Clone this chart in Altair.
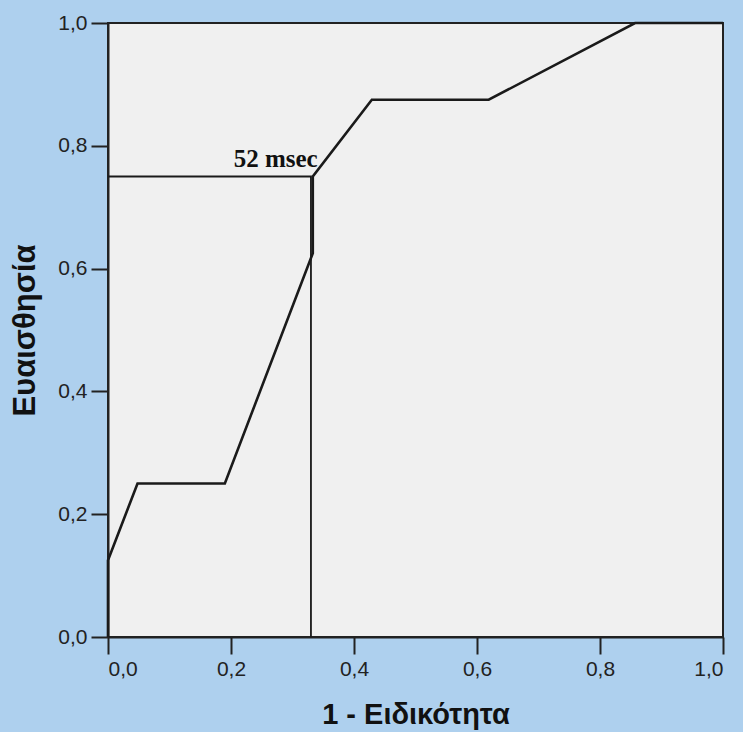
import altair as alt
import pandas as pd

# ROC curve (1 - specificity, sensitivity)
fpr = [0.0, 0.0, 0.048, 0.190, 0.333, 0.333, 0.429, 0.619, 0.857, 1.0]
tpr = [0.0, 0.125, 0.25, 0.25, 0.625, 0.75, 0.875, 0.875, 1.0, 1.0]

# cut-off reference lines
ref_x = [0.0, 0.33, 0.33]
ref_y = [0.75, 0.75, 0.0]

label_text = ["52 msec"]
label_x = [0.341]
label_y = [0.765]

ticks = [0.0, 0.2, 0.4, 0.6, 0.8, 1.0]

curve = pd.DataFrame({"x": fpr, "y": tpr, "o": list(range(len(fpr)))})
ref = pd.DataFrame({"x": ref_x, "y": ref_y, "o": list(range(len(ref_x)))})
lab = pd.DataFrame({"x": label_x, "y": label_y, "t": label_text})

W, H = 615, 614
lab_expr = "replace(format(datum.value, '.1f'), '.', ',')"

xs = alt.Scale(domain=[0, 1], nice=False, zero=False)
ys = alt.Scale(domain=[0, 1], nice=False, zero=False)

x_axis = alt.Axis(values=ticks, labelExpr=lab_expr, title="1 - Ειδικότητα",
                  titleX=W / 2, titleY=77, titleBaseline="middle", titleAlign="center",
                  titleFontSize=29)
y_axis = alt.Axis(values=ticks, labelExpr=lab_expr, title="Ευαισθησία",
                  titleX=-83, titleY=H / 2, titleBaseline="middle", titleAlign="center",
                  titleAngle=-90, titleFontSize=31)

ref_line = alt.Chart(ref).mark_line(color="#1a1a1a", strokeWidth=1.8).encode(
    x=alt.X("x:Q", scale=xs, axis=x_axis),
    y=alt.Y("y:Q", scale=ys, axis=y_axis),
    order="o:O",
)

roc = alt.Chart(curve).mark_line(color="#1a1a1a", strokeWidth=2.6).encode(
    x=alt.X("x:Q", scale=xs),
    y=alt.Y("y:Q", scale=ys),
    order="o:O",
)

txt = alt.Chart(lab).mark_text(
    font="Liberation Serif", fontSize=25, fontWeight="bold", align="right",
    baseline="alphabetic", color="#111"
).encode(x="x:Q", y="y:Q", text="t:N")

chart = (ref_line + roc + txt).properties(
    width=W, height=H,
    autosize=alt.AutoSizeParams(type="none"),
    padding={"left": 108, "top": 23, "right": 20, "bottom": 95},
    background="#AED0EE",
).configure_view(
    fill="#F0F0F0", stroke="#222222", strokeWidth=2
).configure_axis(
    grid=False,
    domainColor="#222222", domainWidth=2,
    tickColor="#222222", tickWidth=2, tickSize=17,
    labelFont="Liberation Sans", labelFontSize=21, labelColor="#222222",
    labelPadding=4,
    titleFont="Liberation Sans", titleFontWeight="bold",
    titleColor="#111111",
)

chart.save("out.html", embed_options={"renderer": "svg", "actions": False})
